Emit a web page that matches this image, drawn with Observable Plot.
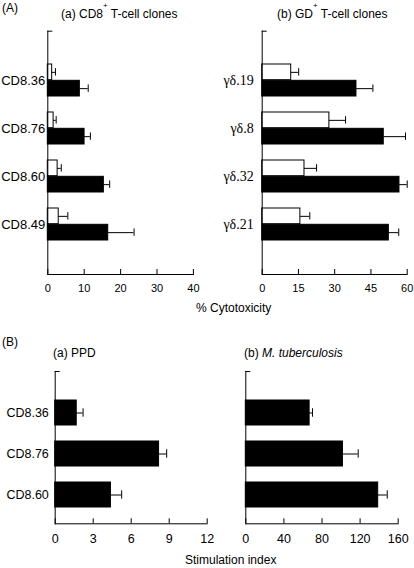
<!DOCTYPE html>
<html><head><meta charset="utf-8">
<script src="https://cdn.jsdelivr.net/npm/d3@7"></script>
<script src="https://cdn.jsdelivr.net/npm/@observablehq/plot@0.6"></script>
<style>
html,body{margin:0;padding:0;background:#fff;}
#root{position:relative;width:414px;height:568px;overflow:hidden;font-family:"Liberation Sans",Arial,sans-serif;color:#000;background:#fff;}
.panel{position:absolute;}
.panel svg{overflow:visible;background:transparent !important;}
.t{position:absolute;white-space:nowrap;font-size:12px;line-height:12px;z-index:5;}
.t sup{font-size:8px;line-height:0;vertical-align:top;position:relative;top:-2px;}
</style></head><body><div id="root"></div>
<script>
// ---- data ----
const cd8Clones = ["CD8.36", "CD8.76", "CD8.60", "CD8.49"];
const cd8Control = [1.2, 1.6, 2.7, 3.0];
const cd8ControlErr = [0.9, 0.7, 1.0, 2.5];
const cd8Target = [8.8, 10.1, 15.4, 16.6];
const cd8TargetErr = [2.3, 1.6, 1.6, 7.1];

const gdClones = ["γδ.19", "γδ.8", "γδ.32", "γδ.21"];
const gdControl = [12.0, 27.8, 17.5, 15.8];
const gdControlErr = [3.1, 6.7, 5.0, 3.9];
const gdTarget = [39.0, 50.3, 56.8, 52.4];
const gdTargetErr = [6.8, 9.0, 3.2, 4.1];

const stimClones = ["CD8.36", "CD8.76", "CD8.60"];
const ppdIndex = [1.7, 8.2, 4.4];
const ppdErr = [0.5, 0.6, 0.85];
const mtbIndex = [67, 102, 139];
const mtbErr = [3, 16, 9.5];

const cd8Ticks = [0, 10, 20, 30, 40];
const gdTicks = [0, 15, 30, 45, 60];
const ppdTicks = [0, 3, 6, 9, 12];
const mtbTicks = [0, 40, 80, 120, 160];

const root = document.getElementById("root");

function panel(o) {
  const {cats, bars, ticks, left, top, width, height, marginLeft, marginRight, marginTop, marginBottom,
         paddingInner, paddingOuter, insetTop = 0, labelFont, labelSize, labelPadding, tickFontSize, tickPadding, showY} = o;
  const plotH = height - marginTop - marginBottom - insetTop;
  const plotW = width - marginLeft - marginRight;
  const n = cats.length;
  const step = plotH / (n - paddingInner + 2 * paddingOuter);
  const bw = step * (1 - paddingInner);
  const sub = bw / bars.length;
  const cap = 4;
  const marks = [];
  bars.forEach((s, j) => {
    const rows = cats.map((c, i) => ({c, v: s.values[i], e: s.errs[i]}));
    const center = (j + 0.5) * sub;
    marks.push(Plot.barX(rows, {y: "c", x1: d => 0, x2: "v", fill: s.fill, stroke: "#000", strokeWidth: 1,
      insetTop: j * sub, insetBottom: bw - (j + 1) * sub}));
    marks.push(Plot.ruleY(rows, {y: "c", x1: "v", x2: d => d.v + d.e, stroke: "#000", strokeWidth: 1, dy: center - bw / 2}));
    marks.push(Plot.tickX(rows, {y: "c", x: d => d.v + d.e, stroke: "#000", strokeWidth: 1,
      insetTop: center - cap, insetBottom: bw - center - cap}));
  });
  marks.push(Plot.tickX(ticks, {x: d => d, stroke: "#000", strokeWidth: 1, insetTop: plotH + insetTop - 5}));
  marks.push(Plot.frame({anchor: "left", stroke: "#000", strokeWidth: 1}));
  marks.push(Plot.frame({anchor: "bottom", stroke: "#000", strokeWidth: 1}));
  marks.push(Plot.frame({anchor: "top", stroke: "#000", strokeWidth: 1, insetRight: plotW - 4}));
  marks.push(Plot.axisX({ticks, tickSize: 0, tickPadding, fontSize: tickFontSize, tickFormat: d => String(d)}));
  if (showY) {
    marks.push(Plot.axisY({tickSize: 0, tickPadding: labelPadding, fontSize: labelSize, fontFamily: labelFont}));
  } else {
    marks.push(Plot.axisY({tickSize: 0, text: null, label: null}));
  }
  const chart = Plot.plot({
    width, height, marginLeft, marginRight, marginTop, marginBottom,
    style: {fontFamily: "'Liberation Sans', Arial, sans-serif", color: "#000", background: "transparent", overflow: "visible"},
    x: {domain: [ticks[0], ticks[ticks.length - 1]], label: null},
    y: {domain: cats, paddingInner, paddingOuter, align: 0.5, insetTop, label: null},
    marks
  });
  const div = document.createElement("div");
  div.className = "panel";
  div.style.left = left + "px";
  div.style.top = top + "px";
  div.appendChild(chart);
  root.appendChild(div);
}

panel({cats: cd8Clones,
  bars: [{values: cd8Control, errs: cd8ControlErr, fill: "#fff"}, {values: cd8Target, errs: cd8TargetErr, fill: "#000"}],
  ticks: cd8Ticks, left: 0, top: 0, width: 207, height: 300,
  marginLeft: 47.3, marginRight: 14.1, marginTop: 30.7, marginBottom: 26,
  paddingInner: 0.33, paddingOuter: 0.665,
  labelFont: "'Liberation Sans', Arial, sans-serif", labelSize: 13, labelPadding: 2.5,
  tickFontSize: 11, tickPadding: 10, showY: true});

panel({cats: gdClones,
  bars: [{values: gdControl, errs: gdControlErr, fill: "#fff"}, {values: gdTarget, errs: gdTargetErr, fill: "#000"}],
  ticks: gdTicks, left: 207, top: 0, width: 207, height: 300,
  marginLeft: 54.7, marginRight: 7.3, marginTop: 30.7, marginBottom: 26,
  paddingInner: 0.33, paddingOuter: 0.665,
  labelFont: "'Liberation Serif', 'Times New Roman', serif", labelSize: 14, labelPadding: 8.5,
  tickFontSize: 11, tickPadding: 10, showY: true});

panel({cats: stimClones,
  bars: [{values: ppdIndex, errs: ppdErr, fill: "#000"}],
  ticks: ppdTicks, left: 0, top: 320, width: 215, height: 248,
  marginLeft: 54.7, marginRight: 8.3, marginTop: 51, marginBottom: 44.7,
  paddingInner: 0.4, paddingOuter: 0.41, insetTop: 12,
  labelFont: "'Liberation Sans', Arial, sans-serif", labelSize: 12.5, labelPadding: 6.4,
  tickFontSize: 12.5, tickPadding: 10, showY: true});

panel({cats: stimClones,
  bars: [{values: mtbIndex, errs: mtbErr, fill: "#000"}],
  ticks: mtbTicks, left: 215, top: 320, width: 199, height: 248,
  marginLeft: 30.3, marginRight: 16.3, marginTop: 51, marginBottom: 44.7,
  paddingInner: 0.4, paddingOuter: 0.41, insetTop: 12,
  tickFontSize: 12.5, tickPadding: 10, showY: false});

const texts = [
  {html: "(A)", left: 2, top: 2},
  {html: "(a) CD8<sup>+</sup> T-cell clones", left: 61, top: 8},
  {html: "(b) GD<sup>+</sup> T-cell clones", left: 277, top: 8},
  {html: "% Cytotoxicity", left: 196, top: 302},
  {html: "(B)", left: 2, top: 336},
  {html: "(a) PPD", left: 53, top: 347},
  {html: "(b) <i>M. tuberculosis</i>", left: 244, top: 347},
  {html: "Stimulation index", left: 185, top: 554}
];
for (const t of texts) {
  const d = document.createElement("div");
  d.className = "t";
  d.innerHTML = t.html;
  d.style.left = t.left + "px";
  d.style.top = t.top + "px";
  root.appendChild(d);
}
</script></body></html>
